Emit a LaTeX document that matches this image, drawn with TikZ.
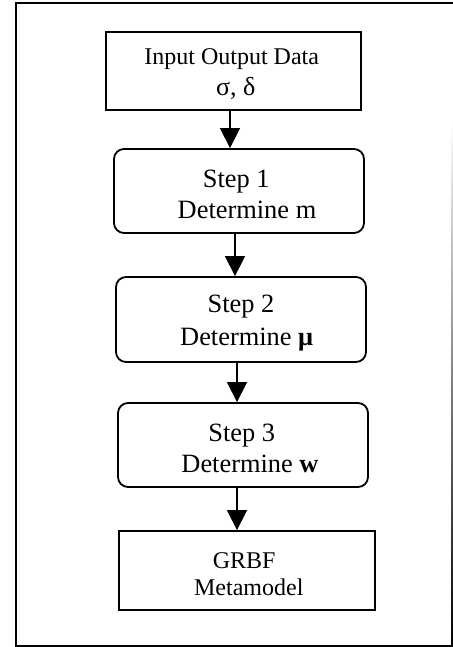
\documentclass[tikz,border=0pt]{standalone}
\usepackage{fontspec}
\setmainfont{Liberation Serif}
\usetikzlibrary{arrows.meta}
\begin{document}
\begin{tikzpicture}[x=1bp,y=-1bp,
  box/.style={draw,line width=1.8bp,align=center,inner sep=0pt,
    font=\fontsize{24bp}{31bp}\selectfont},
  stepbox/.style={box,rounded corners=10bp,minimum width=250bp,minimum height=84bp,
    font=\fontsize{26.4bp}{31bp}\selectfont},
  arr/.style={line width=1.4bp,-{Triangle[width=20bp,length=20bp]}},
  frame/.style={draw,line width=2bp}]
\useasboundingbox (0,0) rectangle (453,647);
\draw[frame] (453,3.5) -- (16,3.5) -- (16,645.5) -- (451,645.5);
\shade[top color=white,bottom color=black] (451,120) rectangle (453,646.5);
\node[box,minimum width=255bp,minimum height=78bp] (in) at (233.5,71)
  {\rule{0pt}{22.5bp}Input Output Data\kern3.6bp\\\kern4.6bp{\fontsize{26bp}{31bp}\selectfont σ, δ}};
\node[stepbox] (s1) at (239,191)
  {\rule{0pt}{24bp}Step 1\kern5.4bp\\\kern16bp Determine m};
\node[stepbox,minimum height=85bp,font=\fontsize{26.4bp}{33bp}\selectfont] (s2) at (241,319.5)
  {\rule{0pt}{24bp}Step 2\\\kern11.4bp Determine {\bfseries μ}};
\node[stepbox] (s3) at (243,445)
  {\rule{0pt}{24bp}Step 3\kern2.6bp\\\kern14bp Determine {\bfseries w}};
\node[box,minimum width=256bp,minimum height=79bp,font=\fontsize{24bp}{27bp}\selectfont] (gr) at (247,570.5)
  {\rule{0pt}{22.5bp}GRBF\kern5.6bp\\\kern3.6bp Metamodel};
\coordinate (a1) at (230,0);
\coordinate (a2) at (235,0);
\coordinate (a3) at (237,0);
\draw[arr] (in.south -| a1) -- (s1.north -| a1);
\draw[arr] (s1.south -| a2) -- (s2.north -| a2);
\draw[arr] (s2.south -| a3) -- (s3.north -| a3);
\draw[arr] (s3.south -| a3) -- (gr.north -| a3);
\end{tikzpicture}
\end{document}
